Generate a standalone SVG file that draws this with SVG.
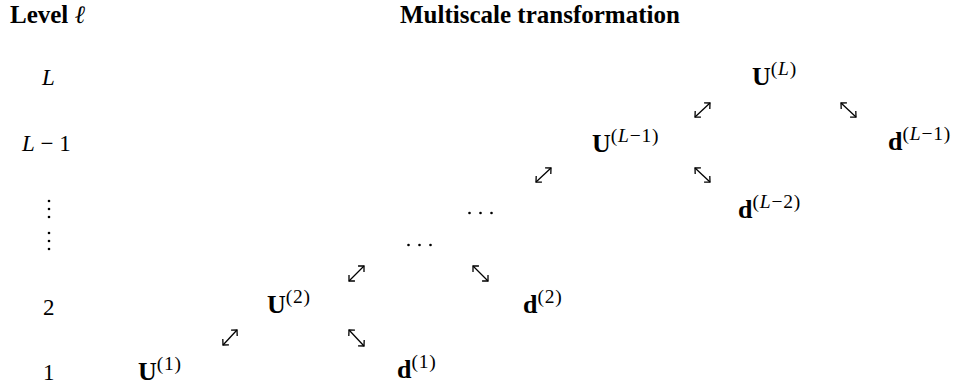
<svg xmlns="http://www.w3.org/2000/svg" width="957" height="389" viewBox="0 0 957 389">
<defs>
<style>
text{font-family:"Liberation Serif","Times New Roman",serif;fill:#000}
.h{font-size:25px;font-weight:bold}
.lab{font-size:23px}
.it{font-style:italic}
.n{font-size:26px}
.b{font-weight:bold}
.s{font-size:19.5px;letter-spacing:0.8px}
.arr{stroke:#000;stroke-width:1.3;fill:none;marker-start:url(#ah);marker-end:url(#ah)}
.dot{fill:#000}
</style>
<marker id="ah" markerUnits="userSpaceOnUse" viewBox="-6 -6 8 12" markerWidth="8" markerHeight="12" refX="0" refY="0" orient="auto-start-reverse">
<path d="M-4.2,-4.2 L0,0 L-4.2,4.2" fill="none" stroke="#000" stroke-width="1.3"/>
</marker>
</defs>
<g id="headers">
<text class="h" x="10" y="23">Level <tspan class="it" font-weight="normal">ℓ</tspan></text>
<text class="h" x="400" y="23">Multiscale transformation</text>
</g>
<g id="levels">
<text class="lab it" x="42" y="85">L</text>
<text class="lab" x="22" y="151"><tspan class="it">L</tspan> − 1</text>
<g id="vdots">
<circle class="dot" cx="49" cy="201" r="1.3"/>
<circle class="dot" cx="49" cy="209" r="1.3"/>
<circle class="dot" cx="49" cy="217" r="1.3"/>
<circle class="dot" cx="49" cy="233" r="1.3"/>
<circle class="dot" cx="49" cy="241" r="1.3"/>
<circle class="dot" cx="49" cy="249" r="1.3"/>
</g>
<text class="lab" x="43" y="315">2</text>
<text class="lab" x="43" y="380">1</text>
</g>
<g id="U1"><text class="n" x="138" y="380"><tspan class="b">U</tspan><tspan class="s" dy="-10">(1)</tspan></text></g>
<g id="d1"><text class="n" x="397" y="378"><tspan class="b">d</tspan><tspan class="s" dy="-10">(1)</tspan></text></g>
<g id="U2"><text class="n" x="267" y="313"><tspan class="b">U</tspan><tspan class="s" dy="-10">(2)</tspan></text></g>
<g id="d2"><text class="n" x="523" y="313"><tspan class="b">d</tspan><tspan class="s" dy="-10">(2)</tspan></text></g>
<g id="hdots1">
<circle class="dot" cx="408.5" cy="245" r="1.3"/>
<circle class="dot" cx="419.5" cy="245" r="1.3"/>
<circle class="dot" cx="430.5" cy="245" r="1.3"/>
</g>
<g id="hdots2">
<circle class="dot" cx="469.5" cy="213" r="1.3"/>
<circle class="dot" cx="480.5" cy="213" r="1.3"/>
<circle class="dot" cx="491.5" cy="213" r="1.3"/>
</g>
<g id="UL1"><text class="n" x="592" y="152"><tspan class="b">U</tspan><tspan class="s" dy="-10">(<tspan class="it">L</tspan>−1)</tspan></text></g>
<g id="dL2"><text class="n" x="738" y="218"><tspan class="b">d</tspan><tspan class="s" dy="-10">(<tspan class="it">L</tspan>−2)</tspan></text></g>
<g id="UL"><text class="n" x="752" y="85"><tspan class="b">U</tspan><tspan class="s" dy="-10">(<tspan class="it">L</tspan>)</tspan></text></g>
<g id="dL1"><text class="n" x="888" y="150"><tspan class="b">d</tspan><tspan class="s" dy="-10">(<tspan class="it">L</tspan>−1)</tspan></text></g>
<g id="connectors">
<path class="arr" d="M223,345 L237,330"/>
<path class="arr" d="M349,330 L364,346"/>
<path class="arr" d="M349,281 L364,266"/>
<path class="arr" d="M473,266 L488,281"/>
<path class="arr" d="M536,182 L551,168"/>
<path class="arr" d="M695,168 L710,182"/>
<path class="arr" d="M695,117 L710,103"/>
<path class="arr" d="M841,103 L856,117"/>
</g>
</svg>
